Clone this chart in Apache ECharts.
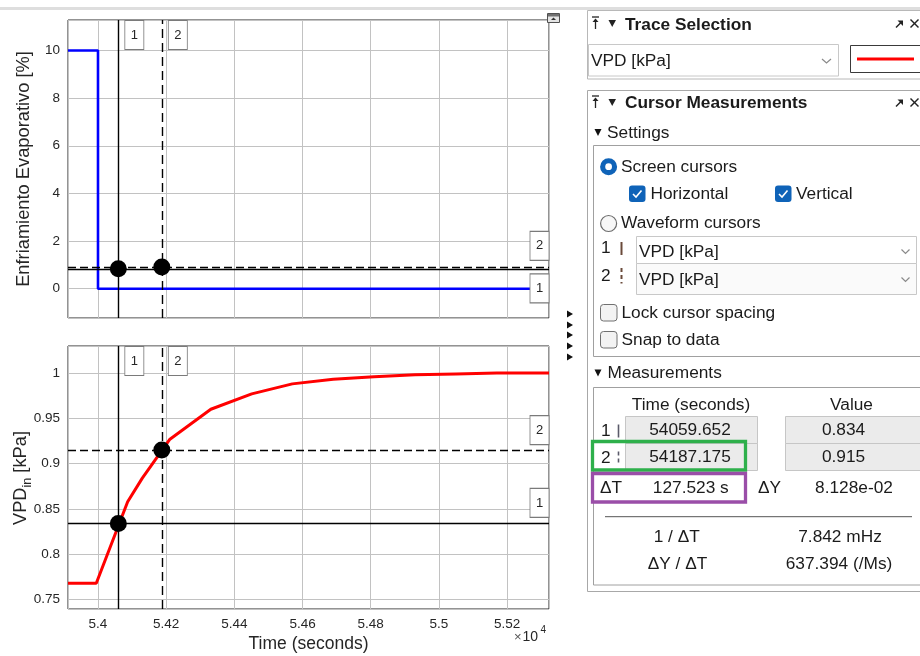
<!DOCTYPE html>
<html><head><meta charset="utf-8">
<script src="https://cdn.jsdelivr.net/npm/echarts@6/dist/echarts.min.js"></script>
<style>html,body{margin:0;padding:0;background:#fff}#c{width:920px;height:656px}</style>
</head><body><div id="c"></div><script>
// ---------- data ----------
const timeEvap = [53912, 54000, 54000, 55323];
const evapValues = [10, 10, 0, 0];
const timeVPD = [53912, 53995, 54087, 54130, 54211, 54331, 54451, 54570, 54690, 54810, 54930, 55050, 55170, 55323];
const vpdValues = [0.768, 0.768, 0.858, 0.884, 0.927, 0.960, 0.977, 0.988, 0.993, 0.996, 0.998, 0.999, 1.000, 1.000];
const cursorTimes = [54059.652, 54187.175];
const cursorValues = [0.834, 0.915];
const cursorNames = ['1', '2'];
const xRange = [53912, 55323];
const evapRange = [-1.23, 11.28];
const vpdRange = [0.7396, 1.0298];
// panel texts
const traceName = 'VPD [kPa]';
const measTimes = ['54059.652', '54187.175'];
const measValues = ['0.834', '0.915'];
const deltaT = '127.523 s';
const deltaY = '8.128e-02';
const invDeltaT = '7.842 mHz';
const slope = '637.394 (/Ms)';

const FONT = '"Liberation Sans", Arial, Helvetica, sans-serif';
const INK = '#262626';
const GRIDC = '#c2c2c2';
const PF = '17.3px ' + FONT;

function zip(a, b) { return a.map((v, i) => [v, b[i]]); }

const chart = echarts.init(document.getElementById('c'));

function cursorSeries(xi, yi, yMax, hOffsets) {
  const pts = zip(cursorTimes, cursorValues);
  const boxStyle = { color: '#fff', borderColor: '#7a7a7a', borderWidth: 1, opacity: 1 };
  const boxLabel = (t) => ({ show: true, position: 'inside', formatter: t, color: INK, fontSize: 13, fontFamily: FONT });
  const mp = [];
  cursorTimes.forEach((t, i) => {
    mp.push({ coord: [t, yMax], symbol: 'rect', symbolSize: [19, 29], symbolOffset: [16, 15], itemStyle: boxStyle, label: boxLabel(cursorNames[i]) });
  });
  cursorValues.forEach((v, i) => {
    mp.push({ coord: [xRange[1], v], symbol: 'rect', symbolSize: [19, 29], symbolOffset: [-9.5, hOffsets[i]], itemStyle: boxStyle, label: boxLabel(cursorNames[i]) });
  });
  return {
    type: 'scatter', xAxisIndex: xi, yAxisIndex: yi, z: 5,
    data: pts, symbol: 'circle', symbolSize: 17, itemStyle: { color: '#000', opacity: 1 },
    silent: true,
    markLine: {
      silent: true, symbol: 'none', animation: false, precision: 6, label: { show: false },
      data: [
        { xAxis: cursorTimes[0], lineStyle: { color: '#000', width: 1.4, type: 'solid' } },
        { xAxis: cursorTimes[1], lineStyle: { color: '#000', width: 1.4, type: [9, 5] } },
        { yAxis: cursorValues[0], lineStyle: { color: '#000', width: 1.4, type: 'solid' } },
        { yAxis: cursorValues[1], lineStyle: { color: '#000', width: 1.4, type: [8, 4] } }
      ]
    },
    markPoint: { silent: true, animation: false, precision: 6, data: mp, z: 6 }
  };
}

// ---------- right panel + decorations (graphic) ----------
const G = [];
function T(x, y, s, o) {
  G.push({ type: 'text', x: x, y: y, silent: true, z: 20, style: Object.assign({ text: s, fill: '#1b1b1b', font: PF, align: 'left', verticalAlign: 'middle', textAlign: 'left', textVerticalAlign: 'middle' }, o || {}) });
}
function TC(x, y, s, o) { T(x, y, s, Object.assign({ align: 'center', textAlign: 'center' }, o || {})); }
function R(x, y, w, h, st, r, z) { G.push({ type: 'rect', silent: true, z: z || 10, shape: { x: x, y: y, width: w, height: h, r: r || 0 }, style: Object.assign({ fill: 'none', stroke: 'none', lineWidth: 1 }, st) }); }
function L(x1, y1, x2, y2, st, z) { G.push({ type: 'line', silent: true, z: z || 15, shape: { x1: x1, y1: y1, x2: x2, y2: y2 }, style: Object.assign({ stroke: '#222', lineWidth: 1 }, st || {}) }); }
function C(cx, cy, r, st) { G.push({ type: 'circle', silent: true, z: 15, shape: { cx: cx, cy: cy, r: r }, style: st }); }
function P(pts, st) { G.push({ type: 'polygon', silent: true, z: 15, shape: { points: pts }, style: st }); }
function PL(pts, st) { G.push({ type: 'polyline', silent: true, z: 16, shape: { points: pts }, style: Object.assign({ fill: 'none' }, st) }); }

// top strip
R(0, 7, 920, 3, { fill: '#dedede' }, 0, 1);
// axes toolbar icon
R(547.5, 13.5, 12, 9, { fill: '#e4e4e4', stroke: '#505050' });
R(548, 14, 11, 2.5, { fill: '#707070' });
P([[551, 20], [553.5, 17.5], [556, 20]], { fill: '#303030' });
// small triangles between charts and panel
[314, 325, 335, 346, 357].forEach(y => P([[567, y - 3.5], [573, y], [567, y + 3.5]], { fill: '#111' }));

// y-axis title of the lower chart, with subscript
G.push({ type: 'text', x: 21, y: 478, rotation: Math.PI / 2, silent: true, z: 20,
  style: { text: '{a|VPD}{s|in}{a| [kPa]}', align: 'center', verticalAlign: 'middle', textAlign: 'center', textVerticalAlign: 'middle',
    rich: { a: { fontSize: 18.3, fill: INK, color: INK, fontFamily: FONT, lineHeight: 22, verticalAlign: 'middle' },
            s: { fontSize: 12.5, fill: INK, color: INK, fontFamily: FONT, lineHeight: 27, verticalAlign: 'bottom' } } } });

function headerIcons(y) {
  L(592, y - 7, 599, y - 7, { lineWidth: 1.3 });
  P([[592.5, y - 2], [595.5, y - 5.5], [598.5, y - 2]], { fill: '#222' });
  L(595.5, y - 3, 595.5, y + 5, { lineWidth: 1.3 });
  P([[608.5, y - 4], [616, y - 4], [612.2, y + 3]], { fill: '#222' });
  L(896, y + 3.5, 901.5, y - 2, { lineWidth: 1.4 });
  P([[897.5, y - 3.5], [903, y - 3.5], [903, y + 2]], { fill: '#222' });
  L(910.5, y - 4.5, 918.5, y + 3.5, { lineWidth: 1.5 });
  L(918.5, y - 4.5, 910.5, y + 3.5, { lineWidth: 1.5 });
}
function smallDown(x, y) { P([[x, y - 3.5], [x + 7, y - 3.5], [x + 3.5, y + 3.5]], { fill: '#111' }); }

// Trace Selection panel
R(587.5, 10.5, 345, 68.5, { fill: '#fff', stroke: '#b8b8b8' }, 0, 5);
headerIcons(24);
T(625, 25, 'Trace Selection', { font: 'bold 17.3px ' + FONT });
R(588.5, 44.5, 250, 31.5, { fill: '#fff', stroke: '#c8c8c8' });
T(591, 61.5, traceName);
PL([[822, 59], [826.5, 63], [831, 59]], { stroke: '#8a8a8a', lineWidth: 1.2 });
R(850.5, 45.5, 80, 27, { fill: '#fff', stroke: '#3a3a3a' });
L(857, 59, 914, 59, { stroke: '#ff0000', lineWidth: 3 });

// Cursor Measurements panel
R(587.5, 90.5, 345, 501, { fill: '#fff', stroke: '#a8a8a8' }, 0, 5);
headerIcons(103);
T(625, 103.5, 'Cursor Measurements', { font: 'bold 17.3px ' + FONT });
smallDown(594.5, 132.5);
T(607, 133.5, 'Settings');
R(593.5, 145.5, 340, 211, { fill: '#fff', stroke: '#a0a0a0' }, 0, 6);
// screen cursors radio
C(608.6, 166.7, 8.5, { fill: '#0f63b8' });
C(608.6, 166.7, 3.4, { fill: '#fff' });
T(621, 167, 'Screen cursors');
function checked(x, y) {
  R(x, y, 16.5, 16.5, { fill: '#0f63b8' }, 3, 14);
  PL([[x + 4, y + 8.5], [x + 7, y + 11.5], [x + 12.5, y + 5]], { stroke: '#fff', lineWidth: 1.6 });
}
checked(629, 185.5); T(650.5, 194, 'Horizontal');
checked(775, 185.5); T(796, 194, 'Vertical');
C(608.6, 223.5, 8, { fill: '#f7f7f7', stroke: '#6c6c6c', lineWidth: 1.2 });
T(621, 223, 'Waveform cursors');
// cursor trace selectors
T(601, 248.5, '1');
L(621.5, 242, 621.5, 255, { stroke: '#6a4a3a', lineWidth: 2 });
T(601, 276.5, '2');
L(621.5, 268, 621.5, 283.5, { stroke: '#6a4a3a', lineWidth: 2, lineDash: [4, 3] });
R(636.5, 236.5, 280, 27, { fill: '#fff', stroke: '#c8c8c8' });
R(636.5, 263.5, 280, 31, { fill: '#fafafa', stroke: '#c8c8c8' });
T(639, 252.5, traceName);
T(639, 280.5, traceName);
PL([[901.5, 249.5], [905.5, 253.5], [909.5, 249.5]], { stroke: '#8a8a8a', lineWidth: 1.2 });
PL([[901.5, 277.5], [905.5, 281.5], [909.5, 277.5]], { stroke: '#8a8a8a', lineWidth: 1.2 });
function unchecked(x, y) { R(x, y, 16.5, 16.5, { fill: '#f3f3f3', stroke: '#707070' }, 3, 14); }
unchecked(600.5, 304.5); T(621.5, 313.5, 'Lock cursor spacing');
unchecked(600.5, 331.5); T(621.5, 340.5, 'Snap to data');
smallDown(594.5, 373);
T(607.5, 373.5, 'Measurements');
R(593.5, 387.5, 340, 197.5, { fill: '#fff', stroke: '#a0a0a0' }, 0, 6);
TC(691, 405, 'Time (seconds)');
TC(851.5, 405, 'Value');
// table rows
const rowTops = [416.5, 443.5];
rowTops.forEach((y, i) => {
  R(625.5, y, 132, 27, { fill: '#ebebeb', stroke: '#c6c6c6' });
  R(785.5, y, 140, 27, { fill: '#ebebeb', stroke: '#c6c6c6' });
  TC(690, y + 14, measTimes[i]);
  TC(843.5, y + 14, measValues[i]);
  T(601, y + 15, cursorNames[i]);
  L(618.5, y + 8, 618.5, y + 21, { stroke: '#5a5a6a', lineWidth: 1.6, lineDash: i ? [4, 3] : null });
});
R(592.5, 441.5, 153, 28.5, { stroke: '#2eb04b', lineWidth: 3.3 }, 0, 18);
R(592.5, 473.5, 153, 28.5, { stroke: '#9a4ea8', lineWidth: 3.3 }, 0, 18);
T(600, 488, 'ΔT');
TC(690.8, 488, deltaT);
T(758, 488, 'ΔY');
TC(854, 488, deltaY);
L(605, 516.7, 912, 516.7, { stroke: '#555', lineWidth: 1 });
TC(676.7, 537, '1 / ΔT');
TC(840, 537, invDeltaT);
TC(677.5, 564, 'ΔY / ΔT');
TC(839, 564, slope);
// x-axis exponent
T(514, 637.5, '×', { font: '13px ' + FONT, fill: '#555' });
T(522.5, 637.5, '10', { font: '14px ' + FONT, fill: INK });
T(540.5, 630.5, '4', { font: '10px ' + FONT, fill: INK });

const axisLabelBase = { color: INK, fontSize: 13.5, fontFamily: FONT, showMinLabel: false, showMaxLabel: false };
const nameStyle = { color: INK, fontSize: 17.5, fontFamily: FONT };
const yNameStyle = { color: INK, fontSize: 18.3, fontFamily: FONT };

const option = {
  animation: false,
  backgroundColor: '#fff',
  textStyle: { fontFamily: FONT },
  grid: [
    { left: 68, top: 20, width: 481, height: 298, show: true, borderColor: INK, borderWidth: 1, backgroundColor: '#fff', containLabel: false, outerBoundsMode: 'none' },
    { left: 68, top: 346, width: 481, height: 263, show: true, borderColor: INK, borderWidth: 1, backgroundColor: '#fff', containLabel: false, outerBoundsMode: 'none' }
  ],
  xAxis: [
    { gridIndex: 0, type: 'value', min: xRange[0], max: xRange[1], splitNumber: 7,
      axisLine: { show: false }, axisTick: { show: false }, axisLabel: { show: false },
      splitLine: { show: true, lineStyle: { color: GRIDC, width: 1 } } },
    { gridIndex: 1, type: 'value', min: xRange[0], max: xRange[1], splitNumber: 7,
      axisLine: { show: false }, axisTick: { show: false },
      axisLabel: Object.assign({ margin: 8, formatter: v => String(+(v / 1e4).toFixed(3)) }, axisLabelBase),
      splitLine: { show: true, lineStyle: { color: GRIDC, width: 1 } },
      name: 'Time (seconds)', nameLocation: 'middle', nameGap: 26.5, nameTextStyle: nameStyle }
  ],
  yAxis: [
    { gridIndex: 0, type: 'value', min: evapRange[0], max: evapRange[1], splitNumber: 6,
      axisLine: { show: false }, axisTick: { show: false },
      axisLabel: Object.assign({ margin: 8, formatter: v => String(+v.toFixed(3)) }, axisLabelBase),
      splitLine: { show: true, lineStyle: { color: GRIDC, width: 1 } },
      name: 'Enfriamiento Evaporativo [%]', nameLocation: 'middle', nameRotate: 90, nameGap: 35, nameTextStyle: yNameStyle },
    { gridIndex: 1, type: 'value', min: vpdRange[0], max: vpdRange[1], splitNumber: 6,
      axisLine: { show: false }, axisTick: { show: false },
      axisLabel: Object.assign({ margin: 8, formatter: v => String(+v.toFixed(3)) }, axisLabelBase),
      splitLine: { show: true, lineStyle: { color: GRIDC, width: 1 } } }
  ],
  series: [
    { type: 'line', name: 'Enfriamiento', xAxisIndex: 0, yAxisIndex: 0, data: zip(timeEvap, evapValues),
      showSymbol: false, symbol: 'none', lineStyle: { color: '#0000ff', width: 2.6 }, z: 3, silent: true },
    cursorSeries(0, 0, evapRange[1], [19.5, -21]),
    { type: 'line', name: 'VPD', xAxisIndex: 1, yAxisIndex: 1, data: zip(timeVPD, vpdValues),
      showSymbol: false, symbol: 'none', lineStyle: { color: '#ff0000', width: 3 }, z: 3, silent: true },
    cursorSeries(1, 1, vpdRange[1], [-20.5, -20])
  ],
  graphic: { elements: G }
};
chart.setOption(option);
</script></body></html>
